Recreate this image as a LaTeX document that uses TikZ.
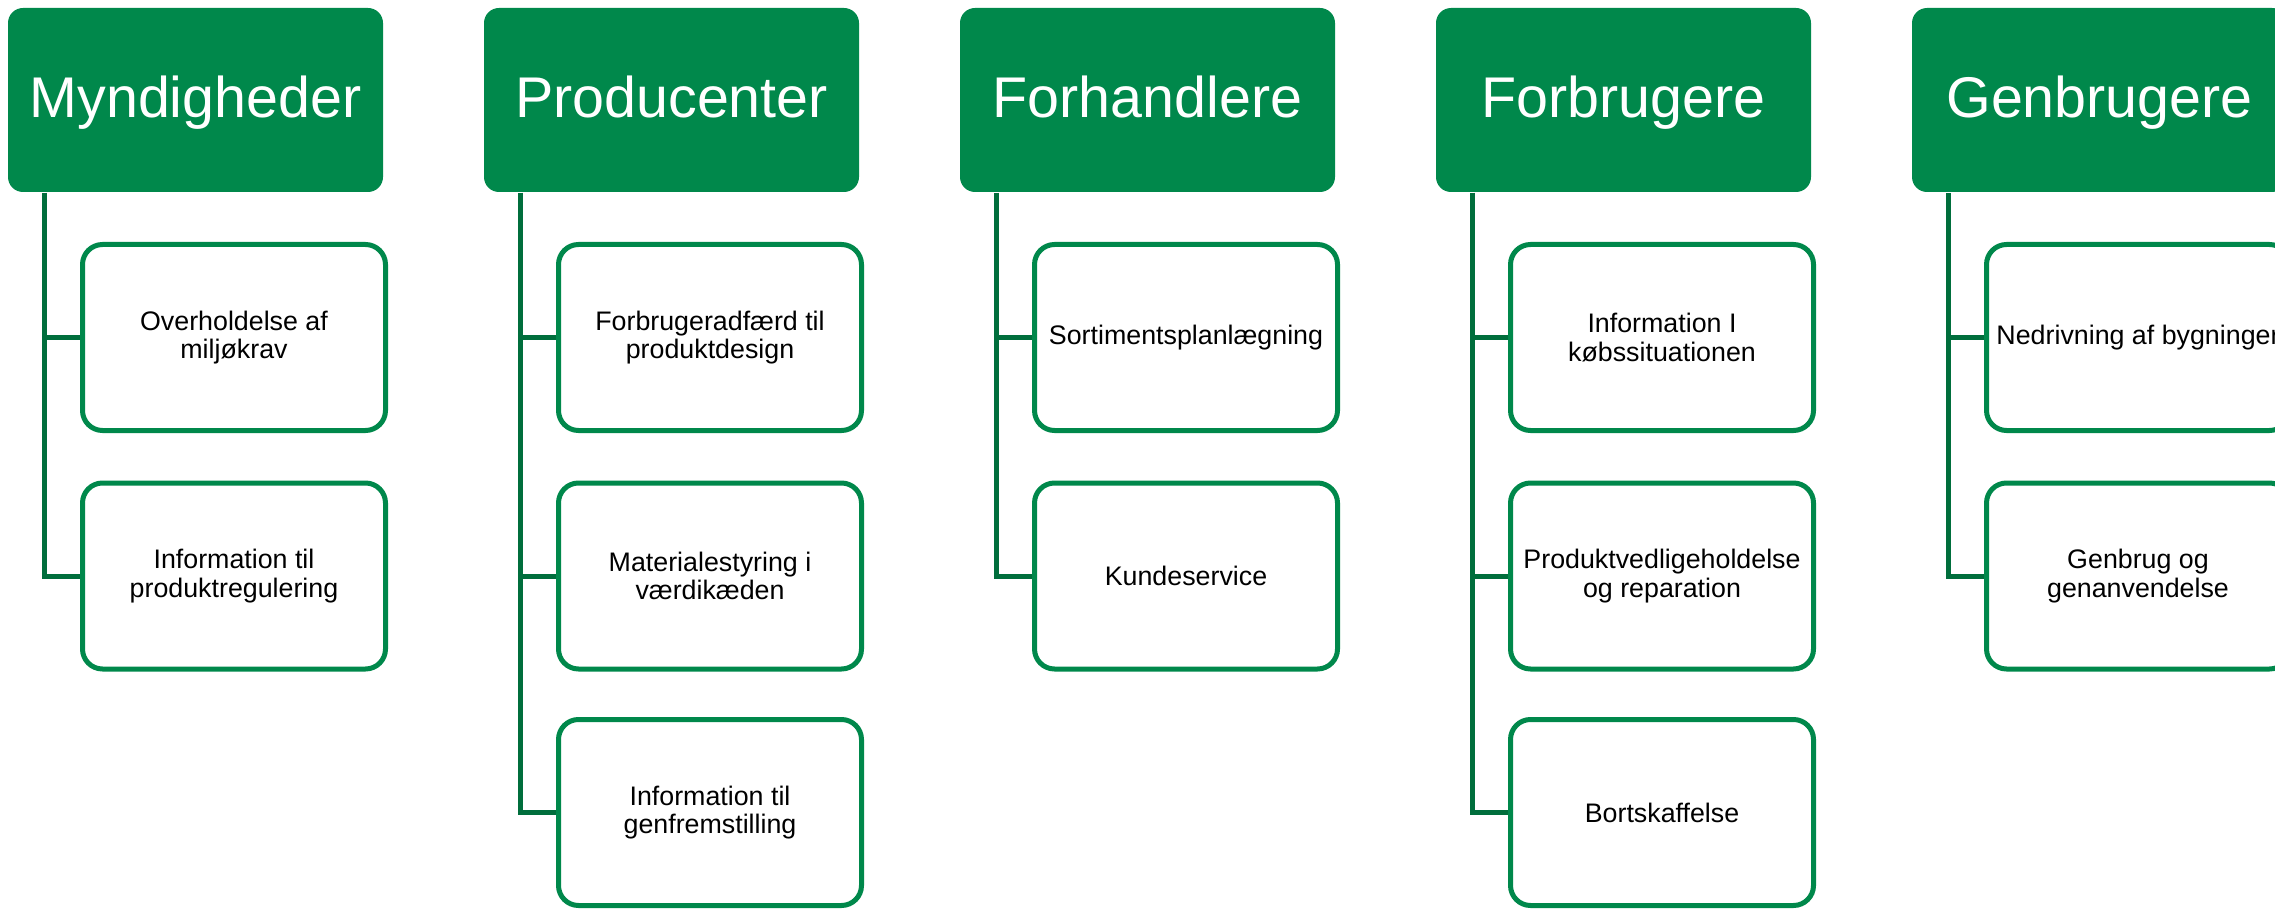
\documentclass[tikz,border=0pt]{standalone}
\usepackage{fontspec}
\setmainfont{Liberation Sans}
\definecolor{hdr}{HTML}{00884B}
\definecolor{bord}{HTML}{00884B}
\definecolor{conn}{HTML}{006E3C}
\begin{document}
\begin{tikzpicture}[x=0.5pt,y=-0.5pt,
  head/.style={fill=hdr, rounded corners=7.5pt, minimum width=187.5pt, minimum height=92pt, inner sep=0pt, text=white,
    font=\fontsize{28.7}{34}\selectfont, text height=20.5pt, text depth=3pt},
  child/.style={draw=bord, line width=2.5pt, fill=white, rounded corners=10pt, minimum width=151.5pt, minimum height=93pt,
    inner sep=0pt, align=center, font=\fontsize{13.4}{14.2}\selectfont},
  link/.style={draw=conn, line width=2.5pt}]
\useasboundingbox (0,0) rectangle (2275,909);

% Column 1
\node[head] (h1) at (195.5,100) {Myndigheder};
\node[child] (c11) at (234,337.5) {Overholdelse af\\miljøkrav};
\node[child] (c12) at (234,576) {Information til\\produktregulering};
\coordinate (t1) at (44,193);
\draw[link] (t1) |- (c11.west);
\draw[link] (t1) |- (c12.west);

% Column 2
\node[head] (h2) at (671.5,100) {Producenter};
\node[child] (c21) at (710,337.5) {Forbrugeradfærd til\\produktdesign};
\node[child] (c22) at (710,576) {Materialestyring i\\værdikæden};
\node[child] (c23) at (710,812.5) {Information til\\genfremstilling};
\coordinate (t2) at (520,193);
\draw[link] (t2) |- (c21.west);
\draw[link] (t2) |- (c22.west);
\draw[link] (t2) |- (c23.west);

% Column 3
\node[head] (h3) at (1147.5,100) {Forhandlere};
\node[child] (c31) at (1186,337.5) {Sortimentsplanlægning};
\node[child] (c32) at (1186,576) {Kundeservice};
\coordinate (t3) at (996,193);
\draw[link] (t3) |- (c31.west);
\draw[link] (t3) |- (c32.west);

% Column 4
\node[head] (h4) at (1623.5,100) {Forbrugere};
\node[child] (c41) at (1662,337.5) {Information I\\købssituationen};
\node[child] (c42) at (1662,576) {Produktvedligeholdelse\\og reparation};
\node[child] (c43) at (1662,812.5) {Bortskaffelse};
\coordinate (t4) at (1472,193);
\draw[link] (t4) |- (c41.west);
\draw[link] (t4) |- (c42.west);
\draw[link] (t4) |- (c43.west);

% Column 5
\node[head] (h5) at (2099.5,100) {Genbrugere};
\node[child] (c51) at (2138,337.5) {Nedrivning af bygninger};
\node[child] (c52) at (2138,576) {Genbrug og\\genanvendelse};
\coordinate (t5) at (1948,193);
\draw[link] (t5) |- (c51.west);
\draw[link] (t5) |- (c52.west);
\end{tikzpicture}
\end{document}
